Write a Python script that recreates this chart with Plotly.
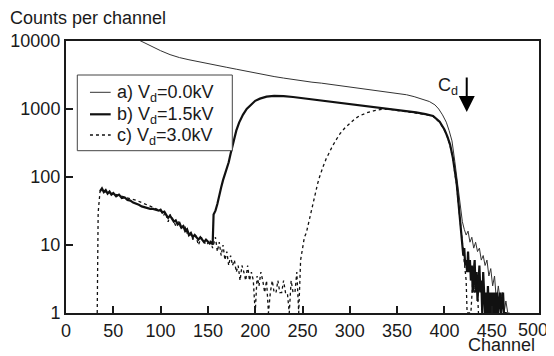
import math
import plotly.graph_objects as go

# ---- data ----
ch_a = [60, 70, 80, 90, 100, 110, 120, 130, 140, 150, 160, 170, 180, 190, 200, 210, 220, 230, 240, 250,
        260, 270, 280, 290, 300, 310, 320, 330, 340, 350, 360, 368, 376, 384, 390, 394, 398, 402, 405, 408,
        411, 413, 415, 417, 419, 421, 423, 425, 427, 429, 431, 433, 435, 437, 439, 441, 443, 445, 447, 449,
        451, 453, 455, 457, 459, 461, 463, 465, 467, 469]
cnt_a = [13500, 11500, 9800, 8400, 7200, 6300, 5700, 5300, 5000, 4700, 4400, 4100, 3850, 3600, 3400, 3200, 3000, 2850, 2700, 2600,
         2480, 2400, 2300, 2220, 2120, 2030, 1950, 1870, 1780, 1700, 1620, 1520, 1400, 1290, 1150, 1000, 820, 640, 480, 340,
         170, 100, 60, 32, 22, 17, 14, 16, 11, 13, 9, 11, 8, 9, 6, 7, 5, 6, 3.5, 4.5,
         2.5, 3.5, 1.5, 2.5, 1.5, 2, 1, 1.5, 1, 1]

ch_b = [36, 38, 40, 42, 44, 46, 48, 50, 53, 56, 59, 62, 65, 68, 71, 74, 77, 80, 83, 86,
        89, 92, 95, 98, 100, 102, 104, 106, 108, 110, 112, 114, 116, 118, 120, 122, 124, 126, 128, 130,
        132, 134, 136, 138, 140, 142, 144, 146, 148, 150, 152, 154, 155, 156, 158, 160, 162, 164, 166, 168,
        170, 172, 174, 176, 178, 180, 183, 187, 191, 195, 200, 205, 212, 220, 230, 240, 250, 260, 270, 280,
        290, 300, 310, 320, 330, 340, 350, 360, 370, 380, 388, 395, 400, 403, 406, 409, 411, 413, 415, 417,
        419, 420, 421, 422, 423, 424, 425, 426, 427, 428, 429, 430, 431, 432, 433, 434, 435, 436, 437, 438,
        439, 440, 441, 442, 443, 444, 445, 446, 447, 448, 449, 450, 451, 452, 453, 454, 455, 456, 457, 459,
        460, 462, 463, 466]
cnt_b = [62, 68, 60, 64, 57, 61, 55, 58, 52, 55, 49, 50, 46, 45, 42, 41, 39, 37, 36, 35,
         34, 34, 33, 32, 33, 30, 31, 28, 25, 27, 24, 22, 23, 20, 21, 18, 19, 16, 17, 14,
         15, 13, 14, 13, 12, 13, 12, 11, 12, 11, 10.5, 11, 10, 28, 32, 40, 55, 70, 90, 110,
         135, 165, 220, 290, 380, 480, 630, 820, 1000, 1150, 1320, 1420, 1520, 1560, 1550, 1500, 1440, 1390, 1330, 1290,
         1240, 1190, 1140, 1090, 1060, 1020, 980, 930, 890, 840, 790, 650, 500, 400, 300, 190, 120, 80, 40, 20,
         10, 7, 9, 5, 6, 4, 8, 4, 6, 3, 5, 2, 4, 6, 2, 4, 1.5, 3, 5, 2,
         3, 1, 4, 2, 1, 2, 1, 2.5, 1, 2, 1, 2, 1, 2, 1, 2, 1, 2, 1, 2,
         1, 2, 1, 1]

ch_c = [33, 34, 36, 40, 45, 50, 55, 60, 65, 70, 75, 80, 85, 90, 95, 100, 103, 105, 108, 110,
        113, 116, 119, 122, 125, 128, 131, 134, 137, 140, 143, 146, 149, 152, 155, 158, 160, 162, 164, 166,
        168, 170, 172, 174, 176, 178, 180, 182, 184, 186, 188, 190, 192, 194, 196, 198, 200, 202, 204, 206,
        208, 210, 212, 214, 216, 218, 220, 222, 224, 226, 228, 230, 232, 234, 236, 238, 240, 242, 244, 246,
        248, 250, 252, 254, 256, 258, 260, 262, 264, 266, 268, 270, 272, 275, 278, 282, 286, 290, 295, 300,
        305, 310, 318, 325, 332, 340, 350, 360, 370, 380, 388, 395, 400, 403, 406, 409, 411, 413, 415, 417,
        419, 421, 423, 424, 428, 430, 432, 434, 436]
cnt_c = [1, 30, 62, 62, 58, 57, 54, 52, 50, 47, 45, 42, 39, 36, 34, 32, 27, 30, 22, 28,
         24, 19, 22, 17, 20, 15, 16, 12, 14, 10, 13, 11, 10, 12, 9, 13, 8, 11, 7, 10,
         6, 8, 5, 7, 5, 6, 4, 5, 3, 5, 4, 3, 5, 3, 4, 3, 1, 3.5, 2.5, 4,
         3, 2, 3, 1, 2, 3, 2, 2, 3, 2, 2, 3, 2, 2, 1, 3, 2, 2, 4, 1,
         6, 9, 13, 15, 20, 26, 35, 48, 60, 80, 100, 125, 145, 185, 230, 290, 360, 440, 530, 620,
         710, 790, 880, 940, 980, 1000, 960, 920, 870, 830, 780, 640, 490, 390, 290, 185, 115, 75, 38, 20,
         10, 5, 3, 1, 1, 3, 2, 4, 1]

x_ticks = [0, 50, 100, 150, 200, 250, 300, 350, 400, 450, 500]
# the last label ("500") is placed as an annotation so it stays inside the page edge
x_tick_text = ["0", "50", "100", "150", "200", "250", "300", "350", "400", "450", ""]
x_last_label = "500"
y_ticks = [1, 10, 100, 1000, 10000]
y_tick_text = ["1", "10", "100", "1000", "10000"]

names = ["a) V<sub>d</sub>=0.0kV", "b) V<sub>d</sub>=1.5kV", "c) V<sub>d</sub>=3.0kV"]
line_styles = [dict(color="#333333", width=1),
               dict(color="#111111", width=2.2),
               dict(color="#111111", width=1.3, dash="dot")]

FONT = "Liberation Sans, Arial, sans-serif"
INK = "#1a1a1a"
FS = 18

fig = go.Figure()
for xs, ys, nm, ls in zip([ch_a, ch_b, ch_c], [cnt_a, cnt_b, cnt_c], names, line_styles):
    fig.add_trace(go.Scatter(x=xs, y=ys, mode="lines", name=nm, line=ls, showlegend=False))

# ---- hand-made legend box (paper coordinates) ----
shapes = [dict(type="rect", xref="paper", yref="paper", x0=0.0239, x1=0.3516, y0=0.5967, y1=0.875,
               line=dict(color="#444444", width=1), fillcolor="white", layer="above")]
annotations = []
row_y = [0.8114, 0.7305, 0.6544]
for ry, nm, ls in zip(row_y, names, line_styles):
    shapes.append(dict(type="line", xref="paper", yref="paper", x0=0.0507, x1=0.0945, y0=ry, y1=ry,
                       line=ls, layer="above"))
    annotations.append(dict(text=nm, xref="paper", yref="paper", x=0.1036, y=ry - 0.004,
                            xanchor="left", yanchor="middle", showarrow=False,
                            font=dict(size=FS)))

annotations += [
    dict(text=x_last_label, xref="paper", yref="paper", x=1.0233, y=-0.0625,
         xanchor="right", yanchor="middle", showarrow=False, font=dict(size=FS)),
    dict(text="Counts per channel", xref="paper", yref="paper", x=-0.1226, y=1.0846,
         xanchor="left", yanchor="middle", showarrow=False, font=dict(size=FS)),
    dict(text="Channel", xref="paper", yref="paper", x=0.8457, y=-0.116,
         xanchor="left", yanchor="middle", showarrow=False, font=dict(size=FS)),
    dict(text="C<sub>d</sub>", xref="x", yref="y", x=404, y=3.33,
         xanchor="center", yanchor="middle", showarrow=False, font=dict(size=FS)),
    dict(text="", xref="x", yref="y", x=423.6, y=math.log10(903), ax=0, ay=-36,
         showarrow=True, arrowhead=2, arrowsize=1.6, arrowwidth=2, arrowcolor="#000000",
         standoff=0),
]

# The page body adds an 8 px offset, so the figure is 8 px smaller and margins shifted.
fig.update_layout(
    width=546, height=348,
    margin=dict(l=58, r=15, t=33, b=43),
    paper_bgcolor="white", plot_bgcolor="white",
    font=dict(family=FONT, size=FS, color=INK),
    showlegend=False,
    xaxis=dict(range=[0, 500], tickvals=x_ticks, ticktext=x_tick_text, ticks="inside", ticklen=7,
               tickwidth=2, tickcolor=INK, showline=True, linecolor=INK, linewidth=2, mirror=True,
               showgrid=False, zeroline=False, automargin=False, ticklabeloverflow="allow",
               tickfont=dict(size=FS)),
    yaxis=dict(type="log", range=[0, 4], tickvals=y_ticks, ticktext=y_tick_text,
               ticks="inside", ticklen=7, tickwidth=2, tickcolor=INK,
               showline=True, linecolor=INK, linewidth=2, mirror=True,
               showgrid=False, zeroline=False, automargin=False, tickfont=dict(size=FS)),
    shapes=shapes,
    annotations=annotations,
)

fig.write_html("out.html")
